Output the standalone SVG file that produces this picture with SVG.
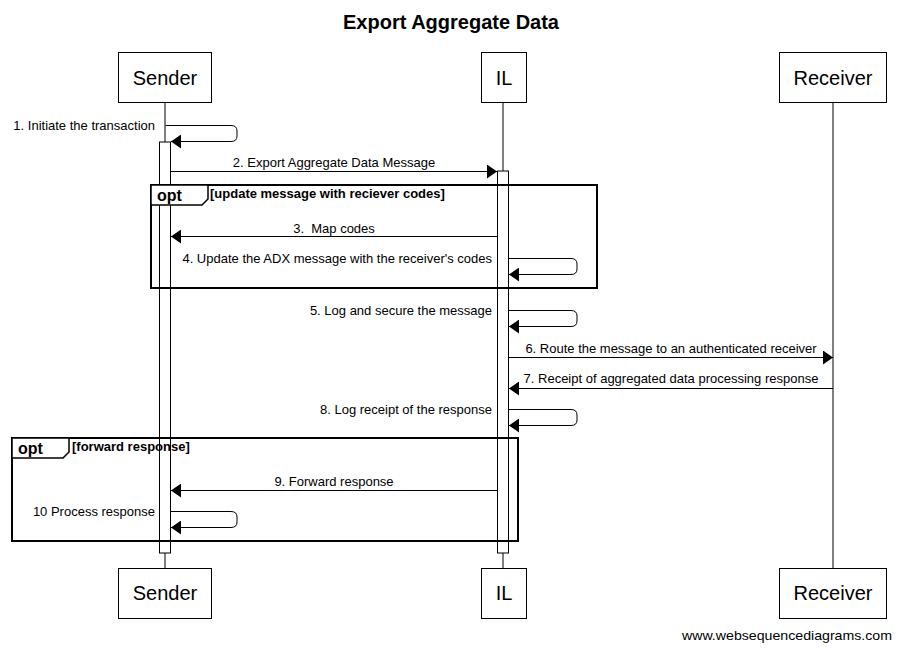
<svg xmlns="http://www.w3.org/2000/svg" width="901" height="651" viewBox="0 0 901 651">
<defs>
<style>
text{font-family:"Liberation Sans",Arial,sans-serif;fill:#000}
.title{font-size:20px;font-weight:bold;text-anchor:middle}
.pname{font-size:20px;text-anchor:middle}
.msg{font-size:13px}
.mid{text-anchor:middle}
.end{text-anchor:end}
.box{fill:#fff;stroke:#000;stroke-width:1}
.life{stroke:#000;stroke-width:1}
.act{fill:#fff;stroke:#000;stroke-width:1}
.line{fill:none;stroke:#000;stroke-width:1;marker-end:url(#ah)}
.frame{fill:none;stroke:#000;stroke-width:2}
.tab{fill:#fff;stroke:#000;stroke-width:1.5}
.optk{font-size:16px;font-weight:bold}
.cond{font-size:13px;font-weight:bold}
</style>
<marker id="ah" markerUnits="userSpaceOnUse" markerWidth="10" markerHeight="14" refX="10" refY="7" orient="auto" viewBox="0 0 10 14">
<path d="M0,0 L10,7 L0,14 z" fill="#000"/>
</marker>
</defs>
<rect width="901" height="651" fill="#fff"/>
<text class="title" x="451" y="29">Export Aggregate Data</text>

<g id="lifelines">
<line class="life" x1="165" y1="102" x2="165" y2="568"/>
<line class="life" x1="503" y1="102" x2="503" y2="568"/>
<line class="life" x1="833" y1="102" x2="833" y2="568"/>
<rect class="act" x="159.5" y="142" width="11" height="411"/>
<rect class="act" x="497.5" y="171" width="11" height="382"/>
</g>

<g id="Sender">
<rect class="box" x="118.5" y="52.5" width="93" height="50"/>
<text class="pname" x="165" y="85">Sender</text>
<rect class="box" x="118.5" y="568.5" width="93" height="50"/>
<text class="pname" x="165" y="600">Sender</text>
</g>
<g id="IL">
<rect class="box" x="481.5" y="52.5" width="45" height="50"/>
<text class="pname" x="504" y="85">IL</text>
<rect class="box" x="481.5" y="568.5" width="45" height="50"/>
<text class="pname" x="504" y="600">IL</text>
</g>
<g id="Receiver">
<rect class="box" x="779.5" y="52.5" width="107" height="50"/>
<text class="pname" x="833" y="85">Receiver</text>
<rect class="box" x="779.5" y="568.5" width="107" height="50"/>
<text class="pname" x="833" y="600">Receiver</text>
</g>

<g id="frame1">
<rect class="frame" x="151" y="185" width="446" height="103"/>
<path class="tab" d="M151,185 H208 V199 L202,205 H151 Z"/>
<text class="optk" x="157" y="201">opt</text>
<text class="cond" x="210" y="198">[update message with reciever codes]</text>
</g>
<g id="frame2">
<rect class="frame" x="12" y="438" width="506" height="103"/>
<path class="tab" d="M12,438 H69 V452 L63,458 H12 Z"/>
<text class="optk" x="18" y="454">opt</text>
<text class="cond" x="72" y="451">[forward response]</text>
</g>

<g id="connectors">
<path class="line" d="M165.5,125.5 H231 Q237,125.5 237,131 V136 Q237,141.5 231,141.5 H171"/>
<text class="msg end" x="155" y="130">1. Initiate the transaction</text>

<path class="line" d="M171,171.5 H497"/>
<text class="msg mid" x="334" y="167">2. Export Aggregate Data Message</text>

<path class="line" d="M497,236.5 H171"/>
<text class="msg mid" x="334" y="233" xml:space="preserve">3.  Map codes</text>

<path class="line" d="M509,258.5 H571 Q577,258.5 577,264 V269 Q577,274.5 571,274.5 H509"/>
<text class="msg end" x="492" y="263">4. Update the ADX message with the receiver's codes</text>

<path class="line" d="M509,310.5 H571 Q577,310.5 577,316 V321 Q577,326.5 571,326.5 H509"/>
<text class="msg end" x="492" y="315">5. Log and secure the message</text>

<path class="line" d="M509,357.5 H833"/>
<text class="msg mid" x="671" y="353">6. Route the message to an authenticated receiver</text>

<path class="line" d="M833,388.5 H509"/>
<text class="msg mid" x="671" y="383">7. Receipt of aggregated data processing response</text>

<path class="line" d="M509,409.5 H571 Q577,409.5 577,415 V420 Q577,425.5 571,425.5 H509"/>
<text class="msg end" x="492" y="414">8. Log receipt of the response</text>

<path class="line" d="M497,490.5 H171"/>
<text class="msg mid" x="334" y="486">9. Forward response</text>

<path class="line" d="M171,511.5 H231 Q237,511.5 237,517 V522 Q237,527.5 231,527.5 H171"/>
<text class="msg end" x="155" y="516">10 Process response</text>
</g>

<text x="892" y="640" font-size="13" text-anchor="end" textLength="210" lengthAdjust="spacingAndGlyphs">www.websequencediagrams.com</text>
</svg>
